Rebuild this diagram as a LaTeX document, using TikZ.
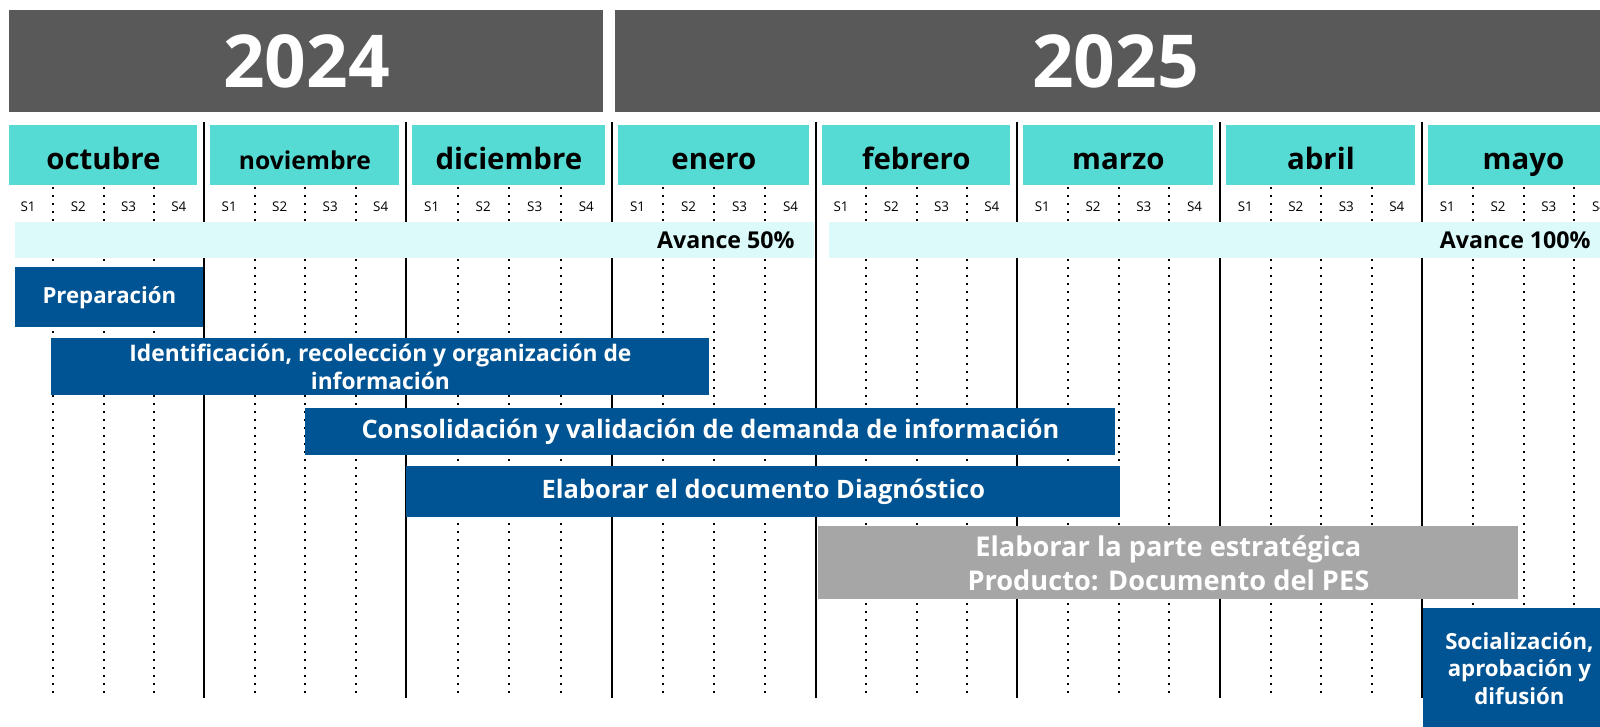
\documentclass[tikz,border=0pt]{standalone}
\usepackage{fontspec}
\setmainfont{Open Sans}
\definecolor{yeargray}{HTML}{595959}
\definecolor{monthteal}{HTML}{55DBD3}
\definecolor{bandcyan}{HTML}{DDFAFA}
\definecolor{taskblue}{HTML}{005493}
\definecolor{taskgray}{HTML}{A6A6A6}
\tikzset{
 yearbox/.style={fill=yeargray,text=white,anchor=north west,inner sep=0pt,
             minimum height=51pt,font=\fontsize{36.5}{40}\selectfont\bfseries},
 monthbox/.style={fill=monthteal,anchor=north west,inner sep=0pt,minimum height=30pt,
             text height=15pt,text depth=1pt},
 weeklabel/.style={inner sep=0pt,font=\fontsize{6.7}{8}\selectfont},
 band/.style={fill=bandcyan,anchor=north west,inner sep=0pt,minimum height=18pt},
 bandlabel/.style={anchor=east,inner sep=0pt,font=\fontsize{11.6}{13}\selectfont\bfseries},
 task/.style={fill=taskblue,text=white,anchor=north west,inner sep=0pt,align=center,
             font=\fontsize{12.7}{13.8}\selectfont\bfseries},
 monthline/.style={line width=1pt},
 weekline/.style={line width=1pt,dash pattern=on 1pt off 3pt}
}

\begin{document}
\begin{tikzpicture}[x=0.5pt,y=-0.5pt]
\useasboundingbox (0,0) rectangle (1600,727);
% years
\node[yearbox,minimum width=297pt] (y2024) at (9,10) {2024};
\node[yearbox,minimum width=500pt] (y2025) at (615,10) {2025};
% week grid and labels
\foreach \xa/\xb [count=\i] in {3/204,204/406,406/612,612/816,816/1017,1017/1220,1220/1422,1422/1625}{
  \foreach \k in {1,2,3}
    \draw[weekline] ({\xa+\k*(\xb-\xa)/4},187) -- ({\xa+\k*(\xb-\xa)/4},693);
  \foreach \k in {1,...,4}
    \node[weeklabel] (w\i-\k) at ({\xa+(\k-0.5)*(\xb-\xa)/4},207) {S\k};
}
% month separators
\foreach \x in {204,406,612,816,1017,1220,1422}
  \draw[monthline] (\x,122) -- (\x,698);
% progress bands
\node[band,minimum width=399.5pt] (band1) at (15,222) {};
\node[band,minimum width=393pt] (band2) at (829,222) {};
\node[bandlabel] (avance1) at (795,240) {Avance 50\%};
\node[bandlabel] (avance2) at (1591,240) {Avance 100\%};
% months
\foreach \xa/\xb/\lab/\fs [count=\i] in {3/204/octubre/14.7,204/406/noviembre/12.3,
    406/612/diciembre/14.7,612/816/enero/14.7,816/1017/febrero/14.7,
    1017/1220/marzo/14.7,1220/1422/abril/14.7,1422/1625/mayo/14.7}{
  \pgfmathsetmacro\bw{(\xb-\xa-13)/2}
  \node[monthbox,minimum width=\bw pt,font=\fontsize{\fs}{16}\selectfont\bfseries]
    (m\i) at (\xa+6,125) {\lab};
}
% tasks
\node[task,minimum width=94pt,minimum height=30pt,font=\fontsize{11.1}{13}\selectfont\bfseries]
  (prep) at (15,267) {Preparación};
\node[task,minimum width=329pt,minimum height=28.5pt,font=\fontsize{11.4}{13.8}\selectfont\bfseries]
  (ident) at (51,338) {Identificación, recolección y organización de\\información};
\node[task,minimum width=405pt,minimum height=23.5pt] (consol) at (305,408)
  {Consolidación y validación de demanda de información};
\node[task,minimum width=357pt,minimum height=25.5pt] (diag) at (406,466)
  {Elaborar el documento Diagnóstico};
\node[task,fill=taskgray,minimum width=350pt,minimum height=36.5pt,
  font=\fontsize{13.6}{17}\selectfont\bfseries] (estrat) at (818,526)
  {Elaborar la parte estratégica\\Producto: Documento del PES};
\node[task,minimum width=96pt,minimum height=60pt,font=\fontsize{11.1}{13.8}\selectfont\bfseries]
  (social) at (1423,608) {Socialización,\\aprobación y\\difusión};
\end{tikzpicture}
\end{document}
